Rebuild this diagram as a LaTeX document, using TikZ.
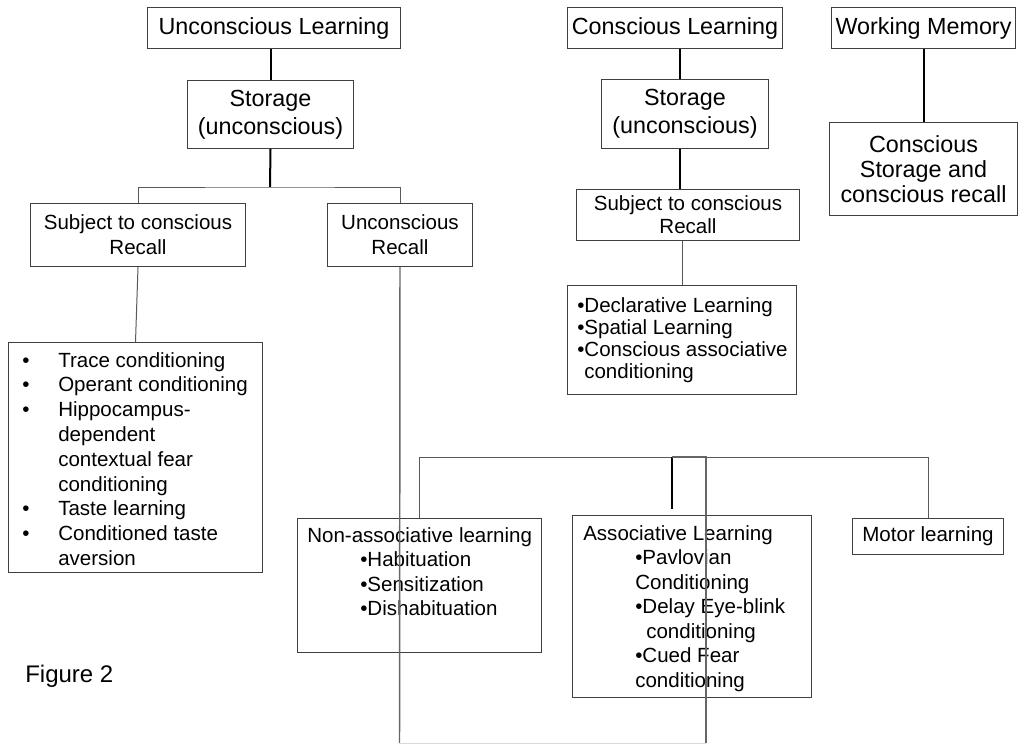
\documentclass[tikz,border=0pt]{standalone}
\usepackage{fontspec}
\setmainfont{Liberation Sans}
\newcommand{\bigtext}{\fontsize{17.5pt}{21pt}\selectfont}
\newcommand{\smalltext}{\fontsize{15.4pt}{18.4pt}\selectfont}
\begin{document}
\begin{tikzpicture}[x=0.75pt,y=-0.75pt,
  box/.style 2 args={draw=black!75, line width=0.75pt, minimum width=#1*0.75pt,
    minimum height=#2*0.75pt, inner sep=0pt, align=center, anchor=north west},
  listtext/.style={inner sep=0pt, align=left, anchor=north west},
  thickline/.style={draw=black, line width=1.5pt},
  thinline/.style={draw=black!65, line width=0.75pt},
  recallline/.style={draw=black!60, line width=1.1pt}]
\useasboundingbox (0,0) rectangle (1021,744);

% ---------- Unconscious learning branch ----------
\node[box={253}{41}, font=\bigtext] (ul) at (147,7) {Unconscious Learning};
\node[box={166}{68}, font=\bigtext] (st1) at (187,80) {Storage\\(unconscious)};
\node[box={215}{63}, font=\fontsize{15.4pt}{18.75pt}\selectfont] (sub1) at (30,203) {Subject to conscious\\Recall};
\node[box={145}{63}, font=\fontsize{15.4pt}{18.75pt}\selectfont] (ur) at (327,203) {Unconscious\\Recall};
\node[box={254}{230}] (list1) at (8,342) {};
\node[listtext, font=\fontsize{15.4pt}{18.6pt}\selectfont] (list1text) at (22,352)
  {\makebox[27pt][l]{•}Trace conditioning\\
   \makebox[27pt][l]{•}Operant conditioning\\
   \makebox[27pt][l]{•}Hippocampus-\\
   \hspace*{27pt}dependent\\
   \hspace*{27pt}contextual fear\\
   \hspace*{27pt}conditioning\\
   \makebox[27pt][l]{•}Taste learning\\
   \makebox[27pt][l]{•}Conditioned taste\\
   \hspace*{27pt}aversion};

% ---------- Conscious learning branch ----------
\node[box={215}{41}, font=\bigtext] (cl) at (567,7) {Conscious Learning};
\node[box={167}{69}, font=\bigtext] (st2) at (601,79) {Storage\\(unconscious)};
\node[box={223}{51}, font=\fontsize{15.4pt}{17.25pt}\selectfont] (sub2) at (576,189) {Subject to conscious\\Recall};
\node[box={229}{109}] (list2) at (567,285) {};
\node[listtext, font=\fontsize{15.4pt}{16.7pt}\selectfont] (list2text) at (577,297)
  {•Declarative Learning\\
   •Spatial Learning\\
   •Conscious associative\\
   \hspace*{5.25pt}conditioning};

% ---------- Working memory ----------
\node[box={184}{41}, font=\bigtext] (wm) at (831,7) {Working Memory};
\node[box={188}{93}, font=\fontsize{17.5pt}{18.75pt}\selectfont] (cs) at (829,122) {Conscious\\Storage and\\conscious recall};

% ---------- Learning types ----------
\node[box={244}{134}] (na) at (297,518) {};
\node[listtext, font=\smalltext] (natext) at (307,527)
  {Non-associative learning\\
   \hspace*{39.75pt}•Habituation\\
   \hspace*{39.75pt}•Sensitization\\
   \hspace*{39.75pt}•Dishabituation};
\node[box={239}{182}] (as) at (572,515) {};
\node[listtext, font=\smalltext] (astext) at (583,525)
  {Associative Learning\\
   \hspace*{39pt}•Pavlovian\\
   \hspace*{39pt}Conditioning\\
   \hspace*{39pt}•Delay Eye-blink\\
   \hspace*{47.25pt}conditioning\\
   \hspace*{39pt}•Cued Fear\\
   \hspace*{39pt}conditioning};
\node[box={151}{36}, font=\smalltext] (ml) at (852,518) {Motor learning};

\node[inner sep=0pt, anchor=north west, font=\fontsize{18pt}{21pt}\selectfont] (fig) at (25,665) {Figure 2};

% ---------- Connectors ----------
\coordinate (j1) at (270,187);
\coordinate (cx) at (680,0);
\coordinate (recallbottom) at (399.5,743);
\coordinate (busright) at (706,743);
\coordinate (busjoin) at (706,457);
\coordinate (astop) at (672,509);
\coordinate (asbus) at (672,457);

\draw[thickline] (st1.north |- ul.south) -- (st1.north);
\draw[thickline] (st1.south) -- (j1);
\draw[thinline] (sub1.north) |- (j1) -| (ur.north);
\draw[thinline] (sub1.south) -- (list1.north);

\draw[thickline] (cl.south -| cx) -- (st2.north -| cx);
\draw[thickline] (st2.south -| cx) -- (sub2.north -| cx);
\draw[thinline] (sub2.south -| list2.north) -- (list2.north);

\draw[thickline] (wm.south) -- (cs.north);

\draw[thinline] (na.north) -- ++(0,-61) -| (ml.north);
\draw[thickline] (asbus) -- (astop);

\draw[recallline] (ur.south) -- (recallbottom);
\draw[draw=black!15, line width=0.75pt] (recallbottom) -- (busright);
\draw[recallline] (busright) -- (busjoin) -- (asbus);
\end{tikzpicture}
\end{document}
